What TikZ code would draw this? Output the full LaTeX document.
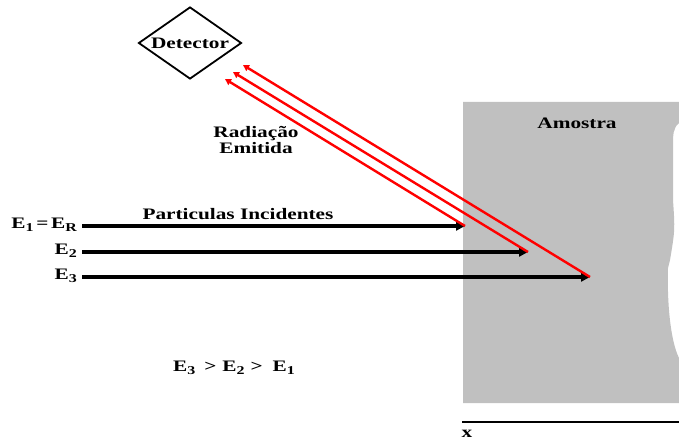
\documentclass[tikz,border=0pt]{standalone}
\usepackage{fontspec}
\setmainfont{Liberation Serif}[FakeStretch=1.33]
\usepackage{xcolor}
\definecolor{sample}{RGB}{192,192,192}
\definecolor{beam}{RGB}{255,0,0}
\usetikzlibrary{arrows.meta,shapes.geometric}
\newcommand\lowidx[1]{\raisebox{-3pt}{\fontsize{12}{12}\selectfont #1}}
\tikzset{
  lbl/.style={font=\fontsize{16}{16}\selectfont\bfseries,inner sep=1pt,align=center},
  detbox/.style={draw,diamond,line width=1.8pt,aspect=1.43,inner sep=1pt,%
    minimum width=103pt,minimum height=72pt,font=\fontsize{16}{16}\selectfont\bfseries},
  incid/.style={-{Triangle[length=9pt,width=9pt]},line width=3.5pt},
  emit/.style={-{Triangle[length=6pt,width=6.5pt]},line width=2.4pt,draw=beam},
}

\begin{document}
\begin{tikzpicture}[x=1pt,y=-1pt]
\useasboundingbox (0,0) rectangle (679,441);
% amostra
\fill[sample] (463,102) -- (679,102) -- (679,123)
  .. controls (673,128) and (673,135) .. (673,145) -- (673,200)
  .. controls (675,230) .. (670,260) -- (668,268)
  .. controls (667,300) and (670,340) .. (679,358) -- (679,403) -- (463,403) -- cycle;
\node[lbl] (amostra) at (577,123) {Amostra};
\coordinate (x0) at (462,422);
\coordinate (x1) at (679,422);
\draw[line width=1.5pt] (x0) -- (x1);
\node[lbl] (xlab) at (467,434) {x};
% detector
\node[detbox] (det) at (190,43) {Detector};
% particulas incidentes
\coordinate (s1) at (82,226);
\coordinate (s2) at (82,252);
\coordinate (s3) at (82,277);
\coordinate (h1) at (465,226);
\coordinate (h2) at (528,252);
\coordinate (h3) at (590,277);
\node[lbl,anchor=east,xshift=-4pt,yshift=1pt] (e1) at (s1) {E\lowidx{1}\,=\,E\lowidx{R}};
\node[lbl,anchor=east,xshift=-4pt,yshift=1pt] (e2) at (s2) {E\lowidx{2}};
\node[lbl,anchor=east,xshift=-4pt,yshift=1pt] (e3) at (s3) {E\lowidx{3}};
\node[lbl] (inc) at (238,214) {Particulas Incidentes};
\draw[incid] (s1) -- (h1);
\draw[incid] (s2) -- (h2);
\draw[incid] (s3) -- (h3);
% radiacao emitida
\coordinate (r1) at (225,79);
\coordinate (r2) at (233,72);
\coordinate (r3) at (243,65);
\draw[emit] (h1) -- (r1);
\draw[emit] (h2) -- (r2);
\draw[emit] (h3) -- (r3);
\node[lbl] (rad) at (256,140) {Radiação\\Emitida};
\node[lbl] (ord) at (234,368) {E\lowidx{3}\hspace{9pt}>\hspace{6pt}E\lowidx{2}\hspace{6pt}>\hspace{10pt}E\lowidx{1}};
\end{tikzpicture}
\end{document}
